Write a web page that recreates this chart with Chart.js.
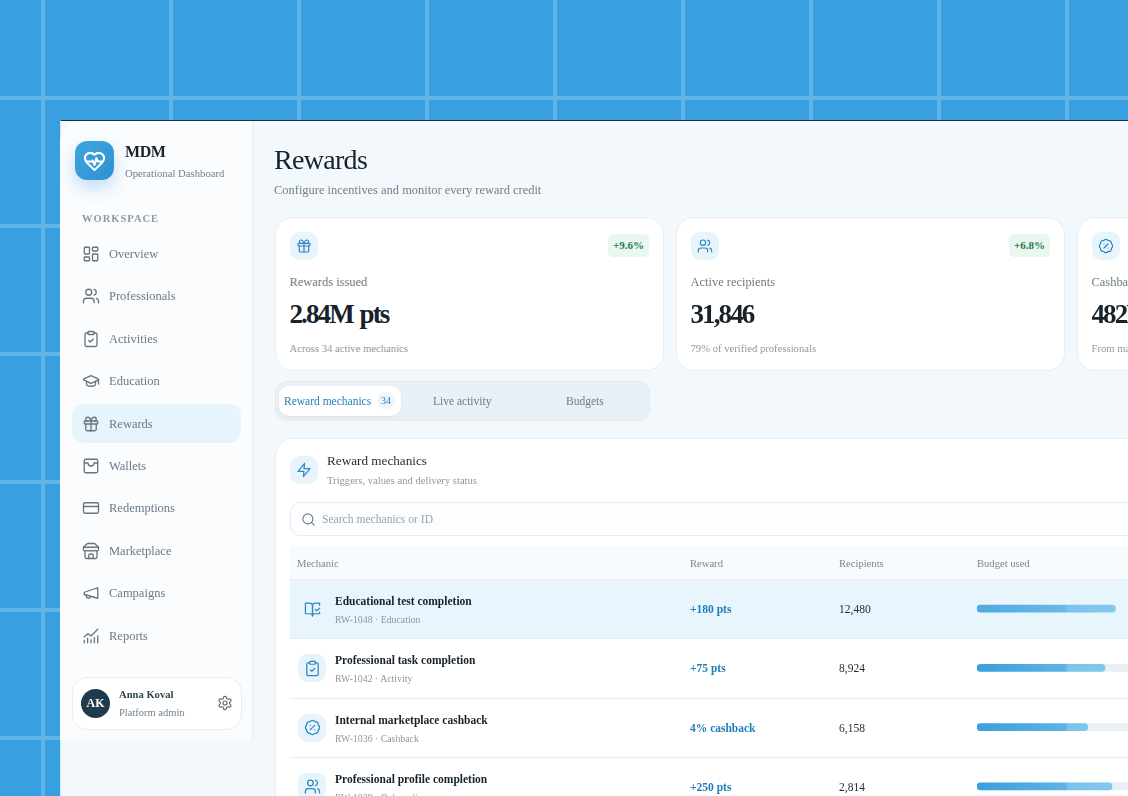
<!DOCTYPE html>
<html>
<head>
<meta charset="utf-8">
<title>Rewards</title>
<script src="https://cdn.jsdelivr.net/npm/chart.js@4"></script>
<style>
html, body { margin: 0; padding: 0; width: 1128px; height: 796px; overflow: hidden; }
body {
  position: relative;
  font-family: "Liberation Serif", serif;
  background-color: #38a0e0;
  background-image: repeating-linear-gradient(90deg, transparent 0 41px, #62b5e8 41px 45px, transparent 45px 128px);
}
body > div { filter: blur(.3px); }
#gridH {
  position: absolute; left: 0; top: 0; width: 1128px; height: 796px;
  background-image: repeating-linear-gradient(180deg, transparent 0 96px, #62b5e8 96px 100px, transparent 100px 128px);
}
.abs { position: absolute; white-space: nowrap; }
.c { transform: translateY(-50%); }
svg.i { position: absolute; fill: none; stroke-width: 1.75; stroke-linecap: round; stroke-linejoin: round; }
#app { position: absolute; left: 60px; top: 120px; width: 1068px; height: 676px; background: #f3f8fc; border-top: 1px solid #17303f; box-sizing: border-box; border-left: 1px solid #cfe9fa; }
#sidebar { position: absolute; left: 60px; top: 121px; width: 192px; height: 619px; background: #fafcfe; border-right: 1px solid #e8edf2; border-top-left-radius: 22px; }
#logo { position: absolute; left: 75px; top: 141px; width: 39px; height: 39px; border-radius: 12px; background: linear-gradient(135deg, #3fa7e2, #2f8fd0); box-shadow: 0 8px 16px rgba(56,160,224,.3); }
#active { position: absolute; left: 72px; top: 404px; width: 169px; height: 39px; border-radius: 12px; background: #e6f4fc; }
#user { position: absolute; left: 72px; top: 677px; width: 168px; height: 51px; border-radius: 15px; background: #fff; border: 1px solid #e8ecef; }
#avatar { position: absolute; left: 81px; top: 689px; width: 29px; height: 29px; border-radius: 50%; background: #1f3a4a; color: #fff; font-weight: bold; font-size: 12px; line-height: 29px; text-align: center; }
.card { position: absolute; top: 217px; height: 152px; width: 387.5px; background: #fff; border: 1px solid #e7edf2; border-radius: 18px; }
.ibox { position: absolute; width: 28px; height: 28px; border-radius: 9px; background: #e8f4fc; }
.badge { position: absolute; top: 234px; width: 41px; height: 23px; line-height: 23px; text-align: center; background: #e9f7ef; color: #1c7a4d; font-weight: bold; font-size: 11px; border-radius: 5px; }
#tabs { position: absolute; left: 275px; top: 381px; width: 373px; height: 38px; border-radius: 12px; background: #e9f0f6; border: 1px solid #e2eaf0; }
#pill { position: absolute; left: 279px; top: 386px; width: 122px; height: 30px; border-radius: 10px; background: #fff; box-shadow: 0 1px 3px rgba(40,80,110,.08); }
#tabBadge { position: absolute; left: 377px; top: 392px; width: 18px; height: 17px; line-height: 17px; border-radius: 9px; background: #eef6fb; color: #1f7fb8; font-size: 10px; text-align: center; }
#panel { position: absolute; left: 274.5px; top: 438px; width: 900px; height: 420px; background: #fff; border: 1px solid #e7edf2; border-radius: 18px; }
#search { position: absolute; left: 290px; top: 502px; width: 900px; height: 32px; background: #fbfdfe; border: 1px solid #e5ebef; border-radius: 10px; }
#thead { position: absolute; left: 290px; top: 546px; width: 900px; height: 33px; background: #f8fbfd; border-bottom: 1px solid #e6edf2; }
.row { position: absolute; left: 290px; width: 900px; height: 58.3px; border-bottom: 1px solid #e7ecf0; }
#budgetWrap { position: absolute; left: 977px; top: 579px; width: 173px; height: 237px; }
</style>
</head>
<body>
<div id="gridH"></div>
<div id="app"></div>
<div id="sidebar"></div>
<div id="logo"></div>
<div id="active"></div>
<div id="user"></div>
<div id="avatar">AK</div>
<div id="tabs"></div>
<div id="pill"></div>
<div id="tabBadge">34</div>
<div id="panel"></div>
<div id="search"></div>
<div id="thead"></div>
<div id="rows"></div>
<div id="budgetWrap"><canvas id="budgetChart"></canvas></div>
<div id="ui"></div>

<script>
const navItems = ['Overview', 'Professionals', 'Activities', 'Education', 'Rewards', 'Wallets', 'Redemptions', 'Marketplace', 'Campaigns', 'Reports']
const navIcons = ['grid', 'users', 'clip', 'cap', 'gift', 'wallet', 'card', 'store', 'mega', 'chart']

const cardLabels = ['Rewards issued', 'Active recipients', 'Cashback paid']
const cardValues = ['2.84M pts', '31,846', '482K']
const cardNotes = ['Across 34 active mechanics', '79% of verified professionals', 'From marketplace']
const cardDeltas = ['+9.6%', '+6.8%']
const cardIcons = ['gift', 'users', 'percent']

const tabs = ['Reward mechanics', 'Live activity', 'Budgets']
const columns = ['Mechanic', 'Reward', 'Recipients', 'Budget used']

const mechanics = ['Educational test completion', 'Professional task completion', 'Internal marketplace cashback', 'Professional profile completion']
const mechanicIds = ['RW-1048 · Education', 'RW-1042 · Activity', 'RW-1036 · Cashback', 'RW-1029 · Onboarding']
const mechanicIcons = ['book', 'clip', 'percent', 'users']
const rewards = ['+180 pts', '+75 pts', '4% cashback', '+250 pts']
const recipients = ['12,480', '8,924', '6,158', '2,814']
const budgetUsed = [80, 74, 64, 78]

const paths = {
  grid: '<rect x="3" y="3" width="7" height="9" rx="1"/><rect x="14" y="3" width="7" height="5" rx="1"/><rect x="14" y="12" width="7" height="9" rx="1"/><rect x="3" y="16" width="7" height="5" rx="1"/>',
  users: '<path d="M16 21v-2a4 4 0 0 0-4-4H6a4 4 0 0 0-4 4v2"/><circle cx="9" cy="7" r="4"/><path d="M22 21v-2a4 4 0 0 0-3-3.87"/><path d="M16 3.13a4 4 0 0 1 0 7.75"/>',
  clip: '<rect x="8" y="2" width="8" height="4" rx="1"/><path d="M16 4h2a2 2 0 0 1 2 2v14a2 2 0 0 1-2 2H6a2 2 0 0 1-2-2V6a2 2 0 0 1 2-2h2"/><path d="m9 14 2 2 4-4"/>',
  cap: '<path d="M21.42 10.922a1 1 0 0 0-.019-1.838L12.83 5.18a2 2 0 0 0-1.66 0L2.6 9.08a1 1 0 0 0 0 1.832l8.57 3.908a2 2 0 0 0 1.66 0z"/><path d="M22 10v6"/><path d="M6 12.5V16a6 3 0 0 0 12 0v-3.5"/>',
  gift: '<rect x="3" y="8" width="18" height="4" rx="1"/><path d="M12 8v13"/><path d="M19 12v7a2 2 0 0 1-2 2H7a2 2 0 0 1-2-2v-7"/><path d="M7.5 8a2.5 2.5 0 0 1 0-5A4.8 8 0 0 1 12 8a4.8 8 0 0 1 4.5-5 2.5 2.5 0 0 1 0 5"/>',
  wallet: '<rect x="3" y="3" width="18" height="18" rx="2"/><path d="M3 8h5c0 2.5 2 4 4 4s4-1.500 4-4h5"/>',
  card: '<rect x="2" y="5" width="20" height="14" rx="2"/><path d="M2 10h20"/>',
  store: '<path d="M2 7l4.41-4.41A2 2 0 0 1 7.830 2h8.340a2 2 0 0 1 1.420.59L22 7"/><path d="M4 12v8a2 2 0 0 0 2 2h12a2 2 0 0 0 2-2v-8"/><path d="M15 22v-4a2 2 0 0 0-2-2h-2a2 2 0 0 0-2 2v4"/><path d="M2 7h20"/><path d="M22 7v3a2 2 0 0 1-2 2 2.700 2.700 0 0 1-1.590-.63.7.7 0 0 0-.82 0A2.700 2.700 0 0 1 16 12a2.700 2.700 0 0 1-1.590-.63.7.7 0 0 0-.82 0A2.700 2.700 0 0 1 12 12a2.700 2.700 0 0 1-1.590-.63.7.7 0 0 0-.82 0A2.700 2.700 0 0 1 8 12a2.700 2.700 0 0 1-1.590-.63.7.7 0 0 0-.82 0A2.700 2.700 0 0 1 4 12a2 2 0 0 1-2-2V7"/>',
  mega: '<path d="m3 11 18-6v14L3 14v-3z"/><path d="M11.600 16.800a3 3 0 1 1-5.800-1.600"/>',
  chart: '<path d="m3 13 5-4 4 3 9-9"/><path d="M3 21v-3M7.500 21v-6M12 21v-4M16.500 21v-7M21 21v-9"/>',
  settings: '<path d="M12.220 2h-.44a2 2 0 0 0-2 2v.18a2 2 0 0 1-1 1.730l-.43.25a2 2 0 0 1-2 0l-.15-.08a2 2 0 0 0-2.730.73l-.22.38a2 2 0 0 0 .73 2.730l.15.1a2 2 0 0 1 1 1.720v.51a2 2 0 0 1-1 1.740l-.15.09a2 2 0 0 0-.73 2.730l.22.38a2 2 0 0 0 2.730.73l.15-.08a2 2 0 0 1 2 0l.43.25a2 2 0 0 1 1 1.730V20a2 2 0 0 0 2 2h.44a2 2 0 0 0 2-2v-.18a2 2 0 0 1 1-1.730l.43-.25a2 2 0 0 1 2 0l.15.08a2 2 0 0 0 2.730-.73l.22-.39a2 2 0 0 0-.73-2.730l-.15-.08a2 2 0 0 1-1-1.740v-.5a2 2 0 0 1 1-1.740l.15-.09a2 2 0 0 0 .73-2.730l-.22-.38a2 2 0 0 0-2.730-.73l-.15.08a2 2 0 0 1-2 0l-.43-.25a2 2 0 0 1-1-1.730V4a2 2 0 0 0-2-2z"/><circle cx="12" cy="12" r="3"/>',
  zap: '<path d="M13 2 3 14h9l-1 8 10-12h-9l1-8z"/>',
  search: '<circle cx="11" cy="11" r="8"/><path d="m21 21-4.300-4.300"/>',
  book: '<path d="M8 3H2v15h7c1.700 0 3 1.300 3 3V7c0-2.200-1.800-4-4-4Z"/><path d="m16 12 2 2 4-4"/><path d="M22 6V3h-6c-2.200 0-4 1.800-4 4v14c0-1.700 1.300-3 3-3h7v-2.300"/>',
  percent: '<path d="M3.850 8.620a4 4 0 0 1 4.780-4.770 4 4 0 0 1 6.740 0 4 4 0 0 1 4.780 4.780 4 4 0 0 1 0 6.740 4 4 0 0 1-4.770 4.780 4 4 0 0 1-6.750 0 4 4 0 0 1-4.780-4.770 4 4 0 0 1 0-6.760Z"/><path d="m15 9-6 6"/><path d="M9 9h.01"/><path d="M15 15h.01"/>',
  heart: '<path d="M19 14c1.490-1.460 3-3.210 3-5.500A5.500 5.500 0 0 0 16.500 3c-1.760 0-3 .5-4.500 2-1.500-1.500-2.740-2-4.500-2A5.500 5.500 0 0 0 2 8.500c0 2.300 1.500 4.050 3 5.500l7 7Z"/><path d="M3.220 12H9.500l.5-1 2 4.500 2-7 1.500 3.500h5.270"/>'
}

let html = ''

function icon(name, x, y, size, color, weight) {
  html += `<svg class="i" style="left:${x}px;top:${y}px;${weight ? 'stroke-width:' + weight : ''}" width="${size}" height="${size}" viewBox="0 0 24 24" stroke="${color}">${paths[name]}</svg>`
}
function text(str, x, y, style) {
  html += `<div class="abs c" style="left:${x}px;top:${y}px;${style}">${str}</div>`
}

// sidebar
icon('heart', 83, 149.500, 23, '#fff', 2.2)
text('MDM', 125, 152, 'font-size:16px;font-weight:bold;letter-spacing:-.4px;color:#17222b')
text('Operational Dashboard', 125, 173, 'font-size:10.7px;color:#6f7f8c')
text('WORKSPACE', 82, 218, 'font-size:10.5px;font-weight:bold;letter-spacing:1px;color:#8e9aa3')
navItems.forEach((item, i) => {
  const y = 254 + i * 42.4
  icon(navIcons[i], 81.500, y - 9, 18, '#66747f')
  text(item, 109, y, 'font-size:12.5px;color:#6b7a86')
})
text('Anna Koval', 119, 694, 'font-size:10.6px;font-weight:bold;color:#33434e')
text('Platform admin', 119, 712, 'font-size:10.5px;color:#6f7f8c')
icon('settings', 217, 695, 16, '#5c6c78')

// header
text('Rewards', 274, 160, 'font-size:28px;letter-spacing:-.7px;color:#17222b')
text('Configure incentives and monitor every reward credit', 274, 190, 'font-size:12.45px;color:#72808b')

// stat cards
const cardLeft = [274.5, 675.5, 1076.5]
cardLabels.forEach((label, i) => {
  const x = cardLeft[i]
  html += `<div class="card" style="left:${x}px"></div>`
  html += `<div class="ibox" style="left:${x + 15}px;top:232px"></div>`
  icon(cardIcons[i], x + 21, 238, 16, '#2a86bf')
  if (cardDeltas[i]) html += `<div class="badge" style="left:${x + 333.5}px">${cardDeltas[i]}</div>`
  text(label, x + 15, 282, 'font-size:12.45px;color:#6f7b85')
  text(cardValues[i], x + 15, 314, 'font-size:27px;font-weight:bold;letter-spacing:-1.9px;word-spacing:2px;color:#17222b')
  text(cardNotes[i], x + 15, 348, 'font-size:10.65px;color:#8d989f')
})

// tabs
const tabLeft = [284, 433, 566]
tabs.forEach((t, i) => {
  text(t, tabLeft[i], 400.5, 'font-size:11.5px;color:' + (i == 0 ? '#1f7fb8' : '#6f7b85'))
})

// table panel
html += '<div class="ibox" style="left:290px;top:456px"></div>'
icon('zap', 296, 462, 16, '#2a86bf')
text('Reward mechanics', 327, 461, 'font-size:13.2px;color:#1e2a33')
text('Triggers, values and delivery status', 327, 480, 'font-size:10.6px;color:#8d989f')
icon('search', 301, 511.500, 15, '#6f7b85')
text('Search mechanics or ID', 322, 519, 'font-size:11.6px;color:#98a3ab')

const columnLeft = [297, 690, 839, 977]
columns.forEach((c, i) => text(c, columnLeft[i], 563, 'font-size:10.6px;color:#7c8790'))

const rowTop = 580
const rowStep = 59.3
let rowsHtml = ''
mechanics.forEach((name, i) => {
  const top = rowTop + i * rowStep
  const mid = top + 29
  rowsHtml += `<div class="row" style="top:${top}px;${i == 0 ? 'background:#e8f5fc' : ''}"></div>`
  html += `<div class="ibox" style="left:298px;top:${mid - 14}px;${i == 0 ? 'background:transparent' : ''}"></div>`
  icon(mechanicIcons[i], 303.5, mid - 8.5, 17, '#2a86bf')
  text(name, 335, mid - 8, 'font-size:11.5px;font-weight:bold;color:#17222b')
  text(mechanicIds[i], 335, mid + 10, 'font-size:9.8px;color:#8d989f')
  text(rewards[i], 690, mid, 'font-size:11.5px;font-weight:bold;color:#1f7fb8')
  text(recipients[i], 839, mid, 'font-size:11.5px;color:#1e2a33')
})
document.getElementById('rows').innerHTML = rowsHtml
document.getElementById('ui').innerHTML = html

// budget bars, one per table row
const budgetCtx = document.getElementById('budgetChart').getContext('2d')

function barFill(from, mid) {
  const g = budgetCtx.createLinearGradient(0, 0, 173, 0)
  g.addColorStop(0, from)
  g.addColorStop(0.515, mid)
  g.addColorStop(0.525, '#7cc4ec')
  g.addColorStop(1, '#88cbef')
  return g
}
const fillSelected = barFill('#4faae0', '#69b9e8')
const fillNormal = barFill('#3a9fdc', '#5fb3e5')

new Chart(budgetCtx, {
  type: 'bar',
  data: {
    labels: mechanics,
    datasets: [
      { label: 'Budget used', data: budgetUsed, backgroundColor: [fillSelected, fillNormal, fillNormal, fillNormal], grouped: false, order: 1, barThickness: 7, borderRadius: 4, borderSkipped: false },
      { label: 'Budget', data: mechanics.map(() => 100), backgroundColor: ['rgba(0,0,0,0)', '#e8f0f5', '#e8f0f5', '#e8f0f5'], grouped: false, order: 2, barThickness: 7, borderRadius: 4, borderSkipped: false }
    ]
  },
  options: {
    indexAxis: 'y',
    responsive: true,
    maintainAspectRatio: false,
    animation: false,
    layout: { padding: 0 },
    plugins: { legend: { display: false }, tooltip: { enabled: false } },
    scales: {
      x: { display: false, min: 0, max: 100 },
      y: { display: false }
    }
  }
})
</script>
</body>
</html>
